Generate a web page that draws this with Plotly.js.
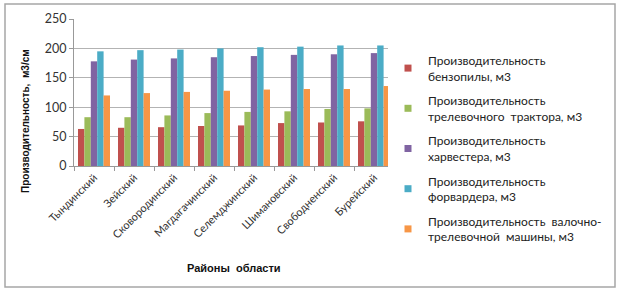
<!DOCTYPE html>
<html><head><meta charset="utf-8">
<script src="https://cdn.plot.ly/plotly-3.0.1.min.js"></script>
<style>html,body{margin:0;padding:0;background:#fff;}#chart{width:624px;height:298px;}</style>
</head><body><div id="chart"></div>
<script>
var districts = ["Тындинский","Зейский","Сковородинский","Магдагачинский","Селемджинский","Шимановский","Свободненский","Бурейский"];
var seriesNames = ["Производительность<br>бензопилы, м3","Производительность<br>трелевочного  трактора, м3","Производительность<br>харвестера, м3","Производительность<br>форвардера, м3","Производительность  валочно-<br>трелевочной  машины, м3"];
var chainsaw  = [63, 65, 66, 68, 69, 73, 74, 76];
var skidder   = [83, 83, 86, 90, 92, 93, 97, 98];
var harvester = [178, 181, 183, 185, 187, 189, 190, 192];
var forwarder = [195, 197, 198, 200, 202, 203, 205, 205];
var fellerBuncher = [120, 124, 126, 128, 130, 131, 131, 136];
var colors = ["#C0504D","#9BBB59","#8064A2","#4BACC6","#F79646"];
var yTicks = [0, 50, 100, 150, 200, 250];

var allSeries = [chainsaw, skidder, harvester, forwarder, fellerBuncher];
var traces = [];
allSeries.forEach(function(vals, i){
  traces.push({type:"bar", x:districts, y:vals, name:seriesNames[i], marker:{color:colors[i]}, legendgroup:"g"+i, showlegend:false});
});
allSeries.forEach(function(vals, i){
  traces.push({type:"scatter", mode:"markers", x:[null], y:[null], name:seriesNames[i], legendgroup:"g"+i,
               marker:{color:colors[i], symbol:"square", size:7}, showlegend:true});
});

var layout = {
  width:624, height:298,
  margin:{l:74, r:230, t:19, b:132},
  paper_bgcolor:"#fff", plot_bgcolor:"#fff",
  font:{family:"Lato, 'Open Sans', sans-serif", size:11, color:"#333"},
  barmode:"group", bargap:0.2, bargroupgap:0,
  showlegend:true,
  legend:{x:(388-74)/320, xanchor:"left", y:(166-46)/147, yanchor:"top", tracegroupgap:6, maxheight:1000,
          font:{size:12, color:"#222"}, itemwidth:30},
  xaxis:{tickangle:-45, tickson:"boundaries", ticks:"outside", ticklen:4, tickcolor:"#999", showline:true, linecolor:"#999", showgrid:false,
         tickfont:{size:11, color:"#333"}},
  yaxis:{range:[0,250], tickvals:yTicks, ticks:"outside", ticklen:4, tickcolor:"#999", showline:true, linecolor:"#999",
         gridcolor:"#b3b3b3", zeroline:false, tickfont:{size:12.5, color:"#333"}},
  annotations:[
    {xref:"paper", yref:"paper", x:(25-74)/320, y:(166-121)/147, xanchor:"center", yanchor:"middle",
     text:"<b>Производительность,  м3/см</b>", textangle:-90, showarrow:false,
     font:{family:"'Liberation Sans', Arial, sans-serif", size:10, color:"#111"}},
    {xref:"paper", yref:"paper", x:0.5, y:(166-268)/147, xanchor:"center", yanchor:"middle",
     text:"<b>Районы  области</b>", showarrow:false,
     font:{family:"'Liberation Sans', Arial, sans-serif", size:11, color:"#111"}}
  ],
  shapes:[
    {type:"rect", xref:"paper", yref:"paper", x0:(5-74)/320, x1:(615-74)/320, y0:(166-287)/147, y1:(166-4)/147,
     line:{color:"#a6a6a6", width:1.5}, fillcolor:"rgba(0,0,0,0)", layer:"below"}
  ]
};
Plotly.newPlot("chart", traces, layout, {staticPlot:true});
</script></body></html>
